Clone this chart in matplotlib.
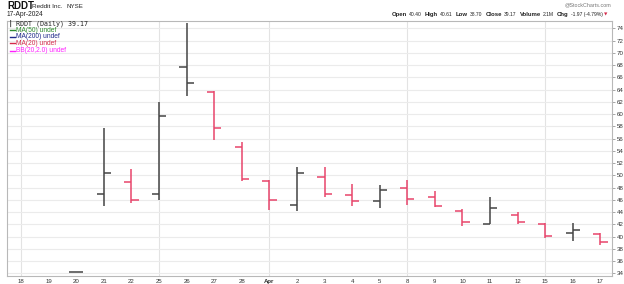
import numpy as np
import matplotlib
matplotlib.use("Agg")
import matplotlib.pyplot as plt

plt.rcParams['font.family'] = ['Liberation Sans', 'DejaVu Sans']

# ---- data ----
dates = ['18', '19', '20', '21', '22', '25', '26', '27', '28', 'Apr', '2', '3',
         '4', '5', '8', '9', '10', '11', '12', '15', '16', '17']
nan = np.nan
opens  = [nan, nan, 34.2, 47.00, 48.85, 47.00, 67.70, 63.60, 54.60, 49.00, 45.10, 49.70,
          46.80, 45.80, 47.90, 46.50, 44.10, 42.10, 43.60, 42.00, 40.60, 40.40]
highs  = [nan, nan, 34.2, 57.80, 51.00, 62.00, 74.90, 63.75, 55.40, 49.30, 51.40, 51.30,
          48.50, 48.40, 49.20, 47.50, 44.50, 46.40, 44.00, 42.20, 42.20, 40.61]
lows   = [nan, nan, 34.2, 45.00, 45.50, 46.00, 63.00, 55.70, 49.00, 44.40, 44.10, 46.50,
          45.00, 44.70, 45.10, 44.90, 41.80, 42.00, 42.10, 39.80, 39.30, 38.70]
closes = [nan, nan, 34.2, 50.44, 46.00, 59.75, 65.11, 57.80, 49.40, 46.00, 50.40, 47.00,
          45.80, 47.60, 46.10, 45.00, 42.30, 44.60, 42.30, 40.10, 41.14, 39.17]
yticks = list(range(34, 75, 2))
week_starts = ['18', '25', 'Apr', '8', '15']

UP = '#444444'
DOWN = '#e8456b'
W, H = 624, 284

fig = plt.figure(figsize=(W / 100, H / 100), dpi=100)
ax = fig.add_axes([7.3 / W, 1 - 276 / H, (612.3 - 7.3) / W, (276 - 20.7) / H])

x = np.arange(len(dates))
o = np.array(opens); h = np.array(highs); l = np.array(lows); c = np.array(closes)
valid = ~np.isnan(o)
# colour by close vs previous close (StockCharts style)
prev = np.full_like(c, np.nan)
last = np.nan
for i in range(len(c)):
    prev[i] = last
    if not np.isnan(c[i]):
        last = c[i]
prev[3] = np.nan  # first real trading day has no reference
dn = valid & ~np.isnan(prev) & (c < prev)
up = valid & ~dn
tw = 0.26
for mask, col in ((up, UP), (dn, DOWN)):
    ax.vlines(x[mask], l[mask], h[mask], color=col, lw=1.1, zorder=3)
    ax.hlines(o[mask], x[mask] - tw, x[mask], color=col, lw=1.1, zorder=3)
    ax.hlines(c[mask], x[mask], x[mask] + tw, color=col, lw=1.1, zorder=3)

ax.set_xlim(-0.5, 21.43)
ax.set_ylim(33.56, 75.24)

# grid
ax.set_yticks(yticks)
ax.grid(axis='y', color='#ebebeb', lw=0.8, zorder=0)
for d in week_starts:
    ax.axvline(dates.index(d), color='#e3e3e3', lw=0.8, zorder=0)

ax.set_xticks(x)
ax.set_xticklabels(dates)
for lab in ax.get_xticklabels():
    if lab.get_text() == 'Apr':
        lab.set_fontweight('bold')
ax.tick_params(axis='x', length=0, pad=2, labelsize=4.4, labelcolor='#333333')
ax.yaxis.tick_right()
ax.tick_params(axis='y', length=2, pad=1.2, labelsize=4.4, labelcolor='#333333',
               color='#999999', width=0.6)
for s in ax.spines.values():
    s.set_color('#b8b8b8')
    s.set_linewidth(0.8)

def ftxt(px, py, s, **kw):
    return fig.text(px / W, 1 - py / H, s, va='center', **kw)

# legend inside
legend_items = [('RDDT (Daily) 39.17', '#222222'), ('MA(50) undef', '#2e8b2e'),
                ('MA(200) undef', '#1f2a8a'), ('MA(20) undef', '#d42a4a'),
                ('BB(20,2.0) undef', '#ff20ff')]
ly = [23.3, 30.0, 36.7, 43.4, 50.5]
for i, ((txt, col), yy) in enumerate(zip(legend_items, ly)):
    if i == 0:
        ftxt(9.0, yy, '\u2503', fontsize=4.0, color='#333333', family='DejaVu Sans')
        ftxt(16.5, yy, txt, fontsize=4.8, color=col, family='DejaVu Sans Mono')
    else:
        fig.add_artist(plt.Line2D([9.5 / W, 15.5 / W], [1 - yy / H, 1 - yy / H],
                                  color=col, lw=1.0))
        ftxt(15.7, yy, txt, fontsize=4.8, color=col)

# header
ftxt(7, 6, 'RDDT', fontsize=7, fontweight='bold', color='#111111')
ftxt(32.5, 6.3, 'Reddit Inc.', fontsize=4.6, color='#222222')
ftxt(66.7, 6.3, 'NYSE', fontsize=4.4, color='#222222')
ftxt(7, 15, '17-Apr-2024', fontsize=4.8, color='#222222')
fig.text(611 / W, 1 - 4.5 / H, '@StockCharts.com', fontsize=3.9, color='#777777',
         ha='right', va='center')

info = [('Open', True), ('40.40', False), ('High', True), ('40.61', False),
        ('Low', True), ('38.70', False), ('Close', True), ('39.17', False),
        ('Volume', True), ('2.1M', False), ('Chg', True), ('-1.97 (-4.79%)', False)]
fig.canvas.draw()
renderer = fig.canvas.get_renderer()
arts = []
for s, b in info:
    t = ftxt(0, 14.5, s, fontsize=4.3 if b else 3.6,
             fontweight='bold' if b else 'normal', color='#222222')
    arts.append((t, b))
widths = [t.get_window_extent(renderer).width for t, _ in arts]
gaps = [2.0 if b else 3.2 for _, b in arts]
total = sum(widths) + sum(gaps[:-1])
px = 602.5 - total
for (t, b), w, g in zip(arts, widths, gaps):
    t.set_x(px / W)
    px += w + g
ftxt(606.0, 14.5, '\u25BC', fontsize=3.2, color='#d42a4a', ha='center',
     family='DejaVu Sans')

fig.savefig('out.png', dpi=100)
